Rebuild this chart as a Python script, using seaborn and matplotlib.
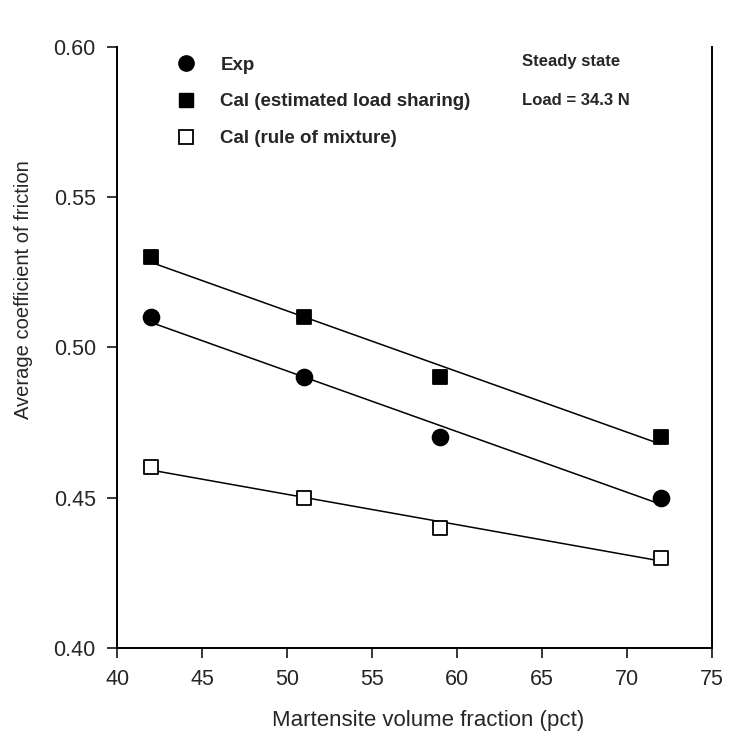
import matplotlib
matplotlib.use("Agg")
import matplotlib.pyplot as plt
import seaborn as sns
import pandas as pd
from matplotlib.lines import Line2D

martensite = [42, 51, 59, 72]
exp_cof = [0.51, 0.49, 0.47, 0.45]
cal_load_sharing = [0.53, 0.51, 0.49, 0.47]
cal_rule_mixture = [0.46, 0.45, 0.44, 0.43]
x_ticks = [40, 45, 50, 55, 60, 65, 70, 75]
y_ticks = [0.40, 0.45, 0.50, 0.55, 0.60]

sns.set_theme(style="ticks")
plt.rcParams['font.family'] = ['Liberation Sans', 'DejaVu Sans']

fig = plt.figure(figsize=(7.33, 7.42), dpi=100)
ax = fig.add_axes([0.160, 0.127, 0.811, 0.810])

series = [
    ("Exp", exp_cof, dict(marker="o", color="black", markerfacecolor="black", s=130)),
    ("Cal (estimated load sharing)", cal_load_sharing, dict(marker="s", color="black", markerfacecolor="black", s=100)),
    ("Cal (rule of mixture)", cal_rule_mixture, dict(marker="s", color="black", markerfacecolor="white", s=100)),
]

for name, vals, st in series:
    df = pd.DataFrame({"x": martensite, "y": vals})
    sns.regplot(data=df, x="x", y="y", ax=ax, ci=None, scatter=False, truncate=True,
                line_kws=dict(color="black", lw=1.1))
    ax.scatter(df["x"], df["y"], marker=st["marker"], s=st["s"],
               facecolor=st["markerfacecolor"], edgecolor="black", linewidth=1.3, zorder=3)

ax.set_xlim(40, 75)
ax.set_ylim(0.40, 0.60)
ax.set_xticks(x_ticks)
ax.set_yticks(y_ticks)
ax.set_xticklabels([str(v) for v in x_ticks])
ax.set_yticklabels([f"{v:.2f}" for v in y_ticks])
ax.tick_params(axis="both", direction="out", length=7.5, width=1.3, labelsize=15.5, pad=8)
ax.tick_params(axis="both", which="both", right=False, top=False)
ax.spines["top"].set_visible(False)
ax.spines["right"].set_visible(True)
for s in ["left", "bottom", "right"]:
    ax.spines[s].set_linewidth(1.4)
    ax.spines[s].set_color("black")
ax.set_xlabel("Martensite volume fraction (pct)", fontsize=16)
ax.set_ylabel("Average coefficient of friction", fontsize=14.5)
ax.xaxis.set_label_coords(0.523, -0.103)
ax.yaxis.set_label_coords(-0.141, 0.596)

handles = [
    Line2D([], [], linestyle="none", marker="o", markersize=11, markerfacecolor="black", markeredgecolor="black"),
    Line2D([], [], linestyle="none", marker="s", markersize=9.5, markerfacecolor="black", markeredgecolor="black"),
    Line2D([], [], linestyle="none", marker="s", markersize=9.5, markerfacecolor="white", markeredgecolor="black", markeredgewidth=1.3),
]
labels = [s[0] for s in series]
ax.legend(handles, labels, loc="upper left", bbox_to_anchor=(0.055, 1.012), frameon=False,
          prop=dict(weight="bold", size=13.5), labelspacing=1.05, handletextpad=0.85)

ax.text(0.681, 0.975, "Steady state", transform=ax.transAxes, fontsize=12, fontweight="bold",
        va="center", ha="left")
ax.text(0.681, 0.910, "Load = 34.3 N", transform=ax.transAxes, fontsize=12, fontweight="bold",
        va="center", ha="left")

fig.savefig("out.png", dpi=100)
